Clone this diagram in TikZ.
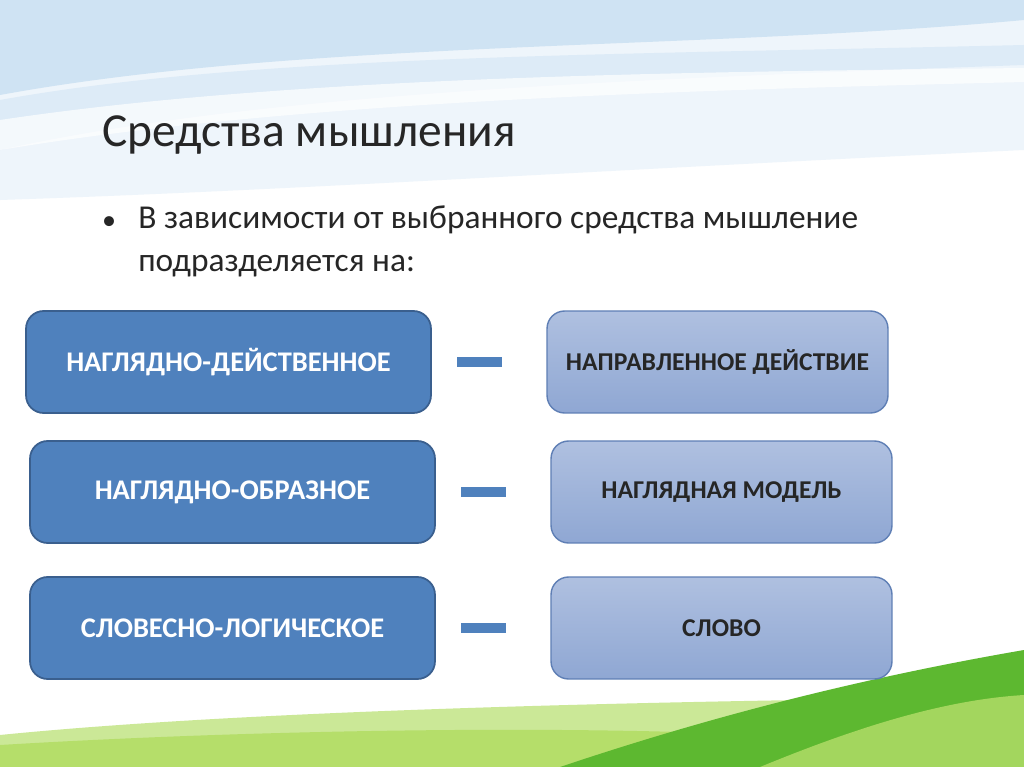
\documentclass[tikz,border=0pt]{standalone}
\usepackage{fontspec}
\setmainfont{Carlito}
\usetikzlibrary{calc}
\definecolor{boxblue}{HTML}{4F81BD}
\definecolor{boxedge}{HTML}{3A5F8E}
\definecolor{lightA}{HTML}{AFC0E0}
\definecolor{lightB}{HTML}{8FA7D3}
\definecolor{lightedge}{HTML}{5F7FB5}
\definecolor{skyA}{HTML}{CFE3F3}
\definecolor{skyB}{HTML}{EEF5FB}
\definecolor{grassA}{HTML}{5DB830}
\definecolor{grassB}{HTML}{B5DE6A}
\tikzset{
  leftbox/.style={draw=boxedge, line width=1pt, fill=boxblue, rounded corners=10pt,
    minimum width=8.1cm, minimum height=2.04cm, text=white, font=\bfseries\fontsize{16.2}{19}\selectfont},
  rightbox/.style={draw=lightedge, line width=0.8pt, top color=lightA, bottom color=lightB,
    rounded corners=10pt, minimum width=6.82cm, minimum height=2.04cm, text=black!85,
    font=\bfseries\fontsize{14.6}{17}\selectfont},
  dashbar/.style={boxblue, line width=6pt}
}
\begin{document}
\begin{tikzpicture}[x=0.02cm,y=-0.02cm]
\useasboundingbox (0,0) rectangle (1024,767);
\fill[white] (0,0) rectangle (1024,767);
% sky
\fill[skyB] (0,0) -- (1024,0) -- (1024,150) .. controls (600,170) and (300,190) .. (0,200) -- cycle;
\fill[skyA] (0,0) -- (1024,0) -- (1024,20) .. controls (700,50) and (300,40) .. (0,95) -- cycle;
\fill[skyA!70!white] (0,100) .. controls (250,55) and (600,55) .. (1024,45) -- (1024,65) .. controls (600,80) and (250,95) .. (0,150) -- cycle;
\fill[white,opacity=0.7] (0,120) .. controls (300,75) and (700,72) .. (1024,68) -- (1024,82) .. controls (700,90) and (300,100) .. (0,150) -- cycle;
% grass
\fill[grassB!70!white] (0,767) -- (0,735) .. controls (200,715) and (500,705) .. (800,700) -- (1024,700) -- (1024,767) -- cycle;
\fill[grassB] (0,767) -- (0,745) .. controls (250,730) and (550,725) .. (760,735) -- (760,767) -- cycle;
\fill[grassA] (560,767) .. controls (700,720) and (850,680) .. (1024,650) -- (1024,767) -- cycle;
\fill[grassB!80!grassA] (760,767) .. controls (850,730) and (940,700) .. (1024,695) -- (1024,767) -- cycle;
% title and text
\node[anchor=west, font=\fontsize{27}{32}\selectfont, text=black!85] (title) at (96,135) {Средства мышления};
\node[anchor=west, font=\fontsize{16}{20}\selectfont, text=black!85] (bul) at (96,223) {•};
\node[anchor=north west, align=left, font=\fontsize{19}{25}\selectfont, text=black!85, inner sep=0pt] (txt) at (138,205)
  {В зависимости от выбранного средства мышление\\подразделяется на:};
% boxes
\node[leftbox] (l1) at (228.5,362) {НАГЛЯДНО-ДЕЙСТВЕННОЕ};
\node[leftbox] (l2) at (232.5,492) {НАГЛЯДНО-ОБРАЗНОЕ};
\node[leftbox] (l3) at (232.5,628) {СЛОВЕСНО-ЛОГИЧЕСКОЕ};
\node[rightbox] (r1) at (717.5,362) {НАПРАВЛЕННОЕ ДЕЙСТВИЕ};
\node[rightbox] (r2) at (721.5,492) {НАГЛЯДНАЯ МОДЕЛЬ};
\node[rightbox] (r3) at (721.5,628) {СЛОВО};
% dashes
\foreach \a/\b in {l1/r1, l2/r2, l3/r3}
  \draw[dashbar] ($(\a.east)!0.22!(\b.west)$) -- ($(\a.east)!0.61!(\b.west)$);
\end{tikzpicture}
\end{document}
